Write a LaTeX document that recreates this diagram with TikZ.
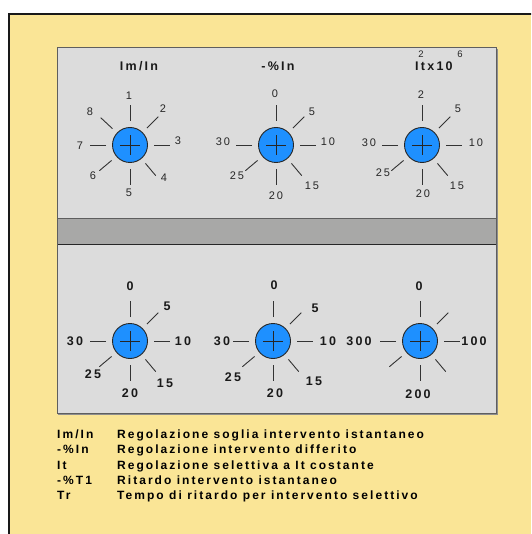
\documentclass[tikz,border=0pt]{standalone}
\usepackage{fontspec}
\setmainfont{Liberation Sans}
\newfontfamily\widefont[LetterSpace=18]{Liberation Sans}
\newfontfamily\legendfont[LetterSpace=17]{Liberation Sans}
\usetikzlibrary{calc}
\definecolor{bgyellow}{HTML}{FAE596}
\definecolor{panelgray}{HTML}{DCDCDC}
\definecolor{bargray}{HTML}{A8A8A7}
\definecolor{knobblue}{HTML}{1E90FF}
\definecolor{edgegray}{HTML}{5E5E5E}
\tikzset{
  knob/.style={circle, fill=knobblue, draw=black!85, line width=0.9pt, minimum size=35pt, inner sep=0pt},
  crossline/.style={line width=0.9pt, black!85},
  tickline/.style={line width=0.9pt, black!80},
  smalllab/.style={font=\widefont\fontsize{11}{12}\selectfont, text=black!85, inner sep=0pt},
  biglab/.style={font=\widefont\bfseries\fontsize{12.5}{14}\selectfont, text=black!90, inner sep=0pt},
  titlelab/.style={font=\widefont\bfseries\fontsize{12.5}{14}\selectfont, text=black!90, inner sep=0pt},
  suplab/.style={font=\widefont\fontsize{9.5}{10}\selectfont, text=black!85, inner sep=0pt},
  legendlab/.style={font=\legendfont\bfseries\fontsize{12}{13}\selectfont, text=black, inner sep=0pt, anchor=base west},
}
\newcommand\dial[4]{%
  \node[knob] (#1) at (#2,#3) {};
  \draw[crossline] ([xshift=-10pt]#1.center) -- ([xshift=10pt]#1.center);
  \draw[crossline] ([yshift=-10pt]#1.center) -- ([yshift=10pt]#1.center);
  \foreach \ang in {#4} \draw[tickline] ($(#1.center)+(\ang:24pt)$) -- ($(#1.center)+(\ang:40pt)$);
}
\begin{document}
\begin{tikzpicture}[x=1pt,y=-1pt]
\useasboundingbox (0,0) rectangle (531,534);
\clip (0,0) rectangle (531,534);
\fill[white] (0,0) rectangle (531,534);
\fill[bgyellow] (9,14) rectangle (531,534);
\draw[line width=2pt, black!90] (9,540) -- (9,14) -- (540,14);
% panel
\fill[panelgray] (57,48) rectangle (496,413);
\fill[bargray] (57,219) rectangle (496,244);
\draw[edgegray, line width=1pt] (57,219) -- (496,219);
\draw[black!85, line width=1pt] (57,244) -- (496,244);
\draw[edgegray, line width=1pt] (57,48) rectangle (496,413);
\draw[edgegray!70, line width=1pt] (497.3,49) -- (497.3,414.3) -- (58,414.3);
% titles
\node[titlelab] (t1) at (139,66) {Im/In};
\node[titlelab] (t2) at (278,66) {-\%In};
\node[titlelab, anchor=west] (t3) at (415,66) {Itx10};
\node[suplab] (t3a) at (421,54) {2};
\node[suplab] (t3b) at (460,54) {6};
% top dials
\dial{d1}{130}{145}{90,45,0,-50,-90,-140,180,137}
\dial{d2}{276}{145}{90,45,0,-50,-90,-140,180}
\dial{d3}{422}{145}{90,45,0,-50,-90,-140,180}
\node[smalllab] (d1a) at (129,96) {1};
\node[smalllab] (d1b) at (163,109) {2};
\node[smalllab] (d1c) at (178,141) {3};
\node[smalllab] (d1d) at (164,178) {4};
\node[smalllab] (d1e) at (129,193) {5};
\node[smalllab] (d1f) at (93,176) {6};
\node[smalllab] (d1g) at (80,146) {7};
\node[smalllab] (d1h) at (90,112) {8};
\node[smalllab] (d2a) at (275,94) {0};
\node[smalllab] (d2b) at (312,112) {5};
\node[smalllab] (d2c) at (328,142) {10};
\node[smalllab] (d2d) at (312,186) {15};
\node[smalllab] (d2e) at (276,196) {20};
\node[smalllab] (d2f) at (237,176) {25};
\node[smalllab] (d2g) at (223,142) {30};
\node[smalllab] (d3a) at (421,95) {2};
\node[smalllab] (d3b) at (458,109) {5};
\node[smalllab] (d3c) at (476,143) {10};
\node[smalllab] (d3d) at (457,186) {15};
\node[smalllab] (d3e) at (423,194) {20};
\node[smalllab] (d3f) at (383,173) {25};
\node[smalllab] (d3g) at (369,143) {30};
% bottom dials
\dial{d4}{130}{341}{90,45,0,-50,-90,-140,180}
\dial{d5}{273}{341}{90,45,0,-50,-90,-140,180}
\dial{d6}{420}{341}{90,45,0,-50,-90,-140,180}
\node[biglab] (d4a) at (130,286) {0};
\node[biglab] (d4b) at (167,306) {5};
\node[biglab] (d4c) at (183,341) {10};
\node[biglab] (d4d) at (165,383) {15};
\node[biglab] (d4e) at (130,393) {20};
\node[biglab] (d4f) at (93,374) {25};
\node[biglab] (d4g) at (75,341) {30};
\node[biglab] (d5a) at (274,285) {0};
\node[biglab] (d5b) at (315,308) {5};
\node[biglab] (d5c) at (328,341) {10};
\node[biglab] (d5d) at (314,381) {15};
\node[biglab] (d5e) at (275,393) {20};
\node[biglab] (d5f) at (233,377) {25};
\node[biglab] (d5g) at (222,341) {30};
\node[biglab] (d6a) at (419,286) {0};
\node[biglab] (d6b) at (359,341) {300};
\node[biglab] (d6c) at (474,341) {100};
\node[biglab] (d6d) at (418,394) {200};
% legend
\node[legendlab] (l1a) at (57,438) {Im/In};
\node[legendlab] (l1b) at (117,438) {Regolazione soglia intervento istantaneo};
\node[legendlab] (l2a) at (57,453.5) {-\%In};
\node[legendlab] (l2b) at (117,453.5) {Regolazione intervento differito};
\node[legendlab] (l3a) at (57,469) {It};
\node[legendlab] (l3b) at (117,469) {Regolazione selettiva a It costante};
\node[legendlab] (l4a) at (57,484) {-\%T1};
\node[legendlab] (l4b) at (117,484) {Ritardo intervento istantaneo};
\node[legendlab] (l5a) at (57,499.5) {Tr};
\node[legendlab] (l5b) at (117,499.5) {Tempo di ritardo per intervento selettivo};
\end{tikzpicture}
\end{document}
